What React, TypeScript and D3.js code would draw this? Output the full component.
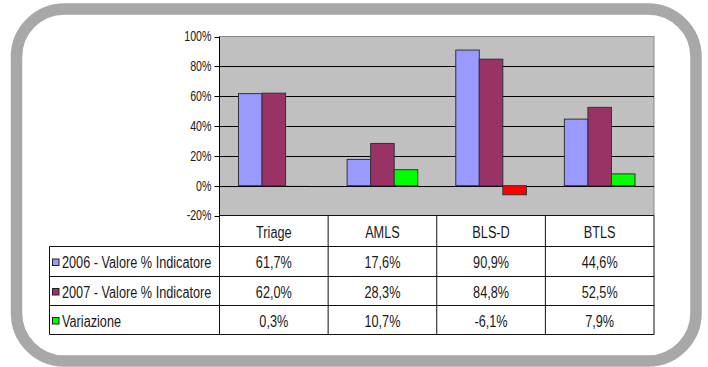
import React from "react";
import * as d3 from "d3";

const categories = ["Triage", "AMLS", "BLS-D", "BTLS"];
const seriesNames = [
  "2006 - Valore % Indicatore",
  "2007 - Valore % Indicatore",
  "Variazione",
];
const values2006 = [61.7, 17.6, 90.9, 44.6];
const values2007 = [62.0, 28.3, 84.8, 52.5];
const variazione = [0.3, 10.7, -6.1, 7.9];
const yTicks = [-20, 0, 20, 40, 60, 80, 100];

const seriesValues = [values2006, values2007, variazione];
const seriesColors = ["#9999ff", "#993366", "#00ff00"];
const negativeColor = "#ff0000";

const W = 708;
const H = 367;
const FONT = "'Liberation Sans', Arial, sans-serif";
const NARROW = 0.82;
const TALL = 1.06;

const fmt = (v: number) => v.toFixed(1).replace(".", ",") + "%";

// condensed text: Liberation Sans squeezed horizontally
function Txt(props: {
  x: number;
  y: number;
  size: number;
  anchor?: "start" | "middle" | "end";
  children: React.ReactNode;
}) {
  const { x, y, size, anchor = "start", children } = props;
  return (
    <text
      transform={`translate(${x},${y}) scale(${NARROW},${TALL})`}
      dy="0.36em"
      textAnchor={anchor}
      fontSize={size}
      fill="#1a1a1a"
    >
      {children}
    </text>
  );
}

export default function App() {
  const plotLeft = 219.5;
  const plotRight = 654;
  const plotTop = 36.5;
  const plotBottom = 215.5;

  const y = d3.scaleLinear().domain([-20, 100]).range([plotBottom, plotTop]);
  const x0 = d3.scaleBand<string>().domain(categories).range([plotLeft, plotRight]);
  const bw = x0.bandwidth();
  const x1 = d3
    .scaleBand<string>()
    .domain(seriesNames)
    .range([19, bw - 19]);

  const tableLeft = 49.5;
  const rowEdges = [plotBottom, 246.5, 276.5, 305.5, 334.5];

  return (
    <svg
      width={W}
      height={H}
      style={{ position: "absolute", left: 0, top: 0, background: "#fff" }}
      fontFamily={FONT}
    >
      {/* rounded frame */}
      <rect
        x={16.5}
        y={9}
        width={679.5}
        height={352}
        rx={48}
        ry={48}
        fill="#fff"
        stroke="#a8a8a8"
        strokeWidth={11.5}
      />

      {/* plot area */}
      <rect
        x={plotLeft}
        y={plotTop}
        width={plotRight - plotLeft}
        height={plotBottom - plotTop}
        fill="#c0c0c0"
        stroke="#8a8a8a"
        strokeWidth={1}
      />

      {/* gridlines */}
      {yTicks
        .filter((t) => t > -20 && t < 100)
        .map((t) => (
          <line
            key={"g" + t}
            x1={plotLeft}
            x2={plotRight}
            y1={Math.round(y(t)) + 0.5}
            y2={Math.round(y(t)) + 0.5}
            stroke="#000"
            strokeWidth={1.2}
          />
        ))}

      {/* bars */}
      {categories.map((c, i) =>
        seriesNames.map((s, j) => {
          const v = seriesValues[j][i];
          const bx = (x0(c) as number) + (x1(s) as number);
          const top = y(Math.max(0, v));
          const h = Math.abs(y(v) - y(0));
          const fill = j === 2 && v < 0 ? negativeColor : seriesColors[j];
          return (
            <rect
              key={c + s}
              x={bx}
              y={top}
              width={x1.bandwidth()}
              height={h}
              fill={fill}
              stroke="#333"
              strokeWidth={h < 1 ? 0 : 1}
            />
          );
        })
      )}

      {/* value axis */}
      <line
        x1={plotLeft}
        x2={plotLeft}
        y1={plotTop}
        y2={plotBottom}
        stroke="#000"
        strokeWidth={1}
      />
      {yTicks.map((t) => (
        <g key={"t" + t}>
          <line
            x1={plotLeft - 5}
            x2={plotLeft}
            y1={Math.round(y(t)) + 0.5}
            y2={Math.round(y(t)) + 0.5}
            stroke="#000"
          />
          <Txt x={plotLeft - 8} y={y(t)} size={13} anchor="end">
            {t + "%"}
          </Txt>
        </g>
      ))}

      {/* data table */}
      <g stroke="#111" strokeWidth={1} fill="none">
        {rowEdges.slice(1).map((ry, k) => (
          <line key={"r" + k} x1={tableLeft} x2={plotRight} y1={ry} y2={ry} />
        ))}
        <line x1={plotLeft} x2={plotRight} y1={plotBottom} y2={plotBottom} />
        <line x1={tableLeft} x2={tableLeft} y1={rowEdges[1]} y2={rowEdges[4]} />
        {categories.map((c) => (
          <line
            key={"v" + c}
            x1={x0(c) as number}
            x2={x0(c) as number}
            y1={plotBottom}
            y2={rowEdges[4]}
          />
        ))}
        <line x1={plotRight} x2={plotRight} y1={plotBottom} y2={rowEdges[4]} />
      </g>

      {categories.map((c) => (
        <Txt
          key={"h" + c}
          x={(x0(c) as number) + bw / 2}
          y={(rowEdges[0] + rowEdges[1]) / 2 + 1}
          size={15.5}
          anchor="middle"
        >
          {c}
        </Txt>
      ))}

      {seriesNames.map((s, j) => {
        const cy = (rowEdges[j + 1] + rowEdges[j + 2]) / 2 + 1;
        return (
          <g key={"row" + s}>
            <rect
              x={52.5}
              y={cy - 3.5}
              width={6.5}
              height={6.5}
              fill={seriesColors[j]}
              stroke="#222"
              strokeWidth={1}
            />
            <Txt x={62} y={cy} size={15.5}>
              {s}
            </Txt>
            {categories.map((c, i) => (
              <Txt
                key={c}
                x={(x0(c) as number) + bw / 2}
                y={cy}
                size={15.5}
                anchor="middle"
              >
                {fmt(seriesValues[j][i])}
              </Txt>
            ))}
          </g>
        );
      })}
    </svg>
  );
}
